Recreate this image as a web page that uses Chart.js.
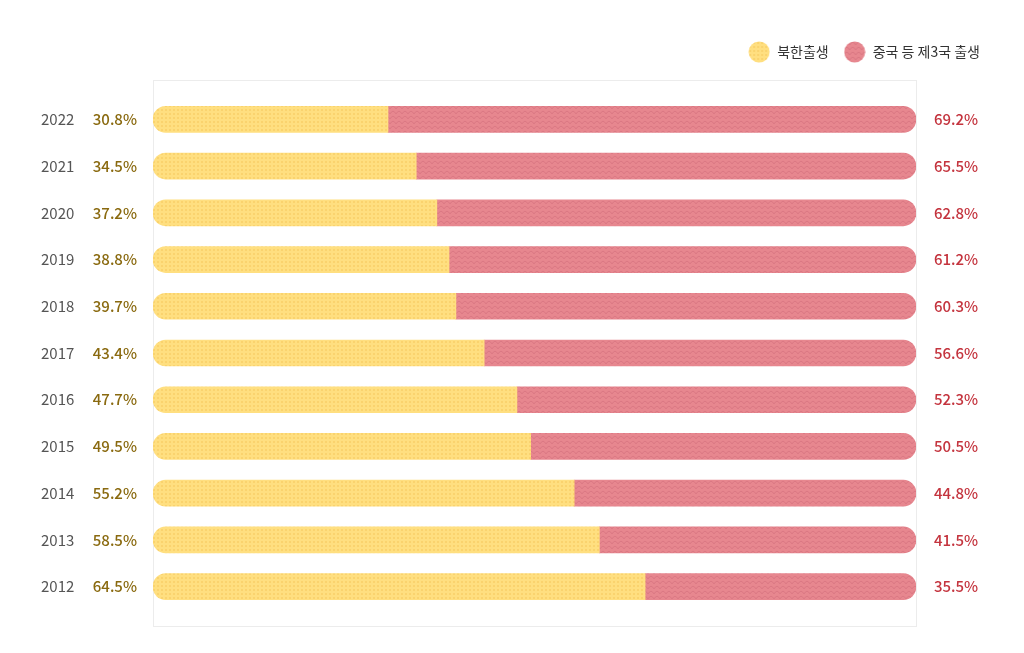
<!DOCTYPE html>
<html><head><meta charset="utf-8">
<script src="https://cdn.jsdelivr.net/npm/chart.js@4.4.0/dist/chart.umd.min.js"></script>
<style>html,body{margin:0;padding:0;background:#fff;overflow:hidden}</style>
</head><body>
<canvas id="c" width="1024" height="653"></canvas>
<script>
const years = ['2022','2021','2020','2019','2018','2017','2016','2015','2014','2013','2012'];
const northBorn = [30.8, 34.5, 37.2, 38.8, 39.7, 43.4, 47.7, 49.5, 55.2, 58.5, 64.5];
const thirdBorn = [69.2, 65.5, 62.8, 61.2, 60.3, 56.6, 52.3, 50.5, 44.8, 41.5, 35.5];
const seriesNames = ['북한출생', '중국 등 제3국 출생'];
const thirdLabels = thirdBorn.map(v => v.toFixed(1) + '%');
const northLabels = northBorn.map(v => v.toFixed(1) + '%');

const FONT = "'Noto Sans CJK KR', 'Noto Sans', sans-serif";
Chart.defaults.font.family = FONT;

function dotTile() {
  const c = document.createElement('canvas'); c.width = 4; c.height = 4;
  const g = c.getContext('2d');
  g.fillStyle = '#FFDF80'; g.fillRect(0, 0, 4, 4);
  g.fillStyle = '#FAD36E'; g.fillRect(1, 1, 2, 2);
  return c;
}
function waveTile() {
  const c = document.createElement('canvas'); c.width = 6; c.height = 5;
  const g = c.getContext('2d');
  g.fillStyle = '#E7878F'; g.fillRect(0, 0, 6, 5);
  g.strokeStyle = '#DB7984'; g.lineWidth = 1;
  g.beginPath(); g.moveTo(0, 4); g.quadraticCurveTo(3, -1.5, 6, 4); g.stroke();
  return c;
}
const ctx = document.getElementById('c').getContext('2d');
const yellowPat = ctx.createPattern(dotTile(), 'repeat');
const redPat = ctx.createPattern(waveTile(), 'repeat');

function legendDot(pat) {
  const c = document.createElement('canvas'); c.width = 22; c.height = 22;
  const g = c.getContext('2d');
  g.fillStyle = pat; g.beginPath(); g.arc(11, 11, 10.5, 0, Math.PI * 2); g.fill();
  return c;
}
const yellowDot = legendDot(yellowPat);
const redDot = legendDot(redPat);

const legendSpace = {
  id: 'legendSpace',
  beforeInit(chart) {
    const orig = chart.legend.fit;
    chart.legend.fit = function () { orig.bind(chart.legend)(); this.height += 27; };
  }
};
const frame = {
  id: 'frame',
  beforeDatasetsDraw(chart) {
    const a = chart.chartArea, g = chart.ctx;
    g.save(); g.strokeStyle = '#ececec'; g.lineWidth = 1;
    g.strokeRect(Math.round(a.left) + 0.5, Math.round(a.top - 16) + 0.5, Math.round(a.right - a.left), Math.round(a.bottom - a.top + 32));
    g.restore();
  }
};
const leftPct = {
  id: 'leftPct',
  afterDatasetsDraw(chart) {
    const meta = chart.getDatasetMeta(0), g = chart.ctx, a = chart.chartArea;
    g.save();
    g.font = '500 15px ' + FONT; g.fillStyle = '#8A6A10';
    g.textAlign = 'right'; g.textBaseline = 'middle';
    meta.data.forEach((el, i) => g.fillText(northLabels[i], a.left - 16, el.y));
    g.restore();
  }
};

new Chart(ctx, {
  type: 'bar',
  data: {
    labels: years,
    datasets: [
      { label: seriesNames[0], data: northBorn, backgroundColor: yellowPat, pointStyle: yellowDot,
        borderRadius: { topLeft: 13, bottomLeft: 13, topRight: 0, bottomRight: 0 },
        borderSkipped: false, borderWidth: 0, barThickness: 26 },
      { label: seriesNames[1], data: thirdBorn, backgroundColor: redPat, pointStyle: redDot,
        borderRadius: { topLeft: 0, bottomLeft: 0, topRight: 13, bottomRight: 13 },
        borderSkipped: false, borderWidth: 0, barThickness: 26 }
    ]
  },
  options: {
    indexAxis: 'y',
    responsive: false,
    animation: false,
    devicePixelRatio: 1,
    layout: { padding: { top: 30, right: 29, bottom: 43, left: 41 } },
    scales: {
      x: { stacked: true, min: 0, max: 100, display: false },
      y: {
        stacked: true,
        grid: { display: false, drawTicks: false },
        border: { display: false },
        ticks: { color: '#555', font: { size: 15 }, padding: 0, crossAlign: 'far' },
        afterFit(s) { s.width = 112; }
      },
      y2: {
        type: 'category', position: 'right', labels: thirdLabels, offset: true,
        grid: { display: false, drawTicks: false },
        border: { display: false },
        ticks: { color: '#C4343E', font: { size: 15, weight: '500' }, padding: 18 },
        afterFit(s) { s.width = 79; }
      }
    },
    plugins: {
      legend: {
        position: 'top', align: 'end',
        labels: { usePointStyle: true, pointStyleWidth: 22, padding: 15, color: '#333', font: { size: 14 } }
      },
      tooltip: { enabled: false }
    }
  },
  plugins: [legendSpace, frame, leftPct]
});
</script>
</body></html>
